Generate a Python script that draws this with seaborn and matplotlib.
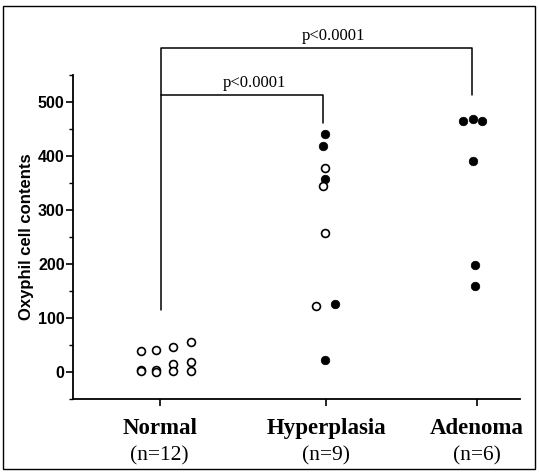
import numpy as np
import pandas as pd
import seaborn as sns
import matplotlib.pyplot as plt
from matplotlib.patches import Rectangle
from matplotlib.ticker import MultipleLocator

sns.set_style("ticks")
plt.rcParams['font.family'] = ['Liberation Sans', 'DejaVu Sans']
plt.rcParams['text.color'] = 'black'
plt.rcParams['xtick.color'] = 'black'
plt.rcParams['ytick.color'] = 'black'
plt.rcParams['axes.labelcolor'] = 'black'
plt.rcParams['axes.edgecolor'] = 'black'

# categories and where they sit on the x axis
groups = ['Normal', 'Hyperplasia', 'Adenoma']
group_n = ['(n=12)', '(n=9)', '(n=6)']
group_pos = [0, 1, 1.9]

# values (open = unfilled circle)
normal_values = [38, 4, 1, 40, 4, 0, 47, 15, 1, 55, 18, 1]
normal_filled = [0] * 12
normal_jitter = [-0.11, -0.11, -0.11, -0.02, -0.02, -0.02, 0.08, 0.08, 0.08, 0.19, 0.19, 0.19]

hyper_values = [440, 418, 377, 357, 345, 257, 122, 126, 22]
hyper_filled = [1, 1, 0, 1, 0, 0, 0, 1, 1]
hyper_jitter = [-0.01, -0.02, -0.01, -0.01, -0.02, -0.01, -0.06, 0.05, -0.01]

adenoma_values = [465, 469, 465, 391, 198, 159]
adenoma_filled = [1, 1, 1, 1, 1, 1]
adenoma_jitter = [-0.08, -0.02, 0.03, -0.02, -0.01, -0.01]

rows = []
for g, pos, vals, fill, jit in zip(groups, group_pos,
                                   [normal_values, hyper_values, adenoma_values],
                                   [normal_filled, hyper_filled, adenoma_filled],
                                   [normal_jitter, hyper_jitter, adenoma_jitter]):
    for v, f, j in zip(vals, fill, jit):
        rows.append({'group': g, 'value': v, 'filled': f, 'xpos': pos + j})
df = pd.DataFrame(rows)

fig = plt.figure(figsize=(5.39, 4.75), dpi=100)
ax = fig.add_axes([0.1354, 0.16, 0.8293, 0.682])

sns.scatterplot(df[df.filled == 1], x='xpos', y='value', ax=ax,
                s=38, color='black', edgecolor='black', linewidth=0.5, legend=False)
sns.scatterplot(df[df.filled == 0], x='xpos', y='value', ax=ax,
                s=32, fc='white', ec='black', linewidth=1.2, legend=False)

ax.set_ylim(-50, 550)
ax.set_xlim(-0.52, 2.16)
ax.yaxis.set_major_locator(MultipleLocator(100))
ax.yaxis.set_minor_locator(MultipleLocator(50))
ax.set_yticks([0, 100, 200, 300, 400, 500])
ax.tick_params(axis='y', which='major', length=5, width=1.2, labelsize=11.5, pad=1)
ax.tick_params(axis='y', which='minor', length=3, width=1.0)
for lab in ax.get_yticklabels():
    lab.set_fontweight('bold')

ax.set_xticks(group_pos)
ax.set_xticklabels(groups, family='Liberation Serif', fontweight='bold', fontsize=16.5)
ax.tick_params(axis='x', length=5, width=1.2, pad=9)
for pos, n in zip(group_pos, group_n):
    ax.text(pos, -0.147, n, transform=ax.get_xaxis_transform(), ha='center', va='top',
            family='Liberation Serif', fontsize=15.5)

ax.set_xlabel('')
ax.set_ylabel('Oxyphil cell contents', fontweight='bold', fontsize=12, labelpad=3)
sns.despine(ax=ax)
for sp in ['left', 'bottom']:
    ax.spines[sp].set_linewidth(1.3)

# significance brackets
ax.plot([0.01, 0.01, 1.87, 1.87], [115, 600, 600, 513], color='black', lw=1.1, clip_on=False)
ax.plot([0.01, 0.01, 0.98, 0.98], [513, 513, 513, 461], color='black', lw=1.1, clip_on=False)
ax.text(1.04, 608, 'p<0.0001', ha='center', va='bottom', family='Liberation Serif',
        fontsize=12, clip_on=False)
ax.text(0.57, 521, 'p<0.0001', ha='center', va='bottom', family='Liberation Serif',
        fontsize=12, clip_on=False)

fig.patches.append(Rectangle((3 / 539, 1 - 469 / 475), 532 / 539, 463 / 475, fill=False,
                             lw=1.0, ec='black', transform=fig.transFigure))

plt.savefig('out.png', dpi=100)
plt.close()
